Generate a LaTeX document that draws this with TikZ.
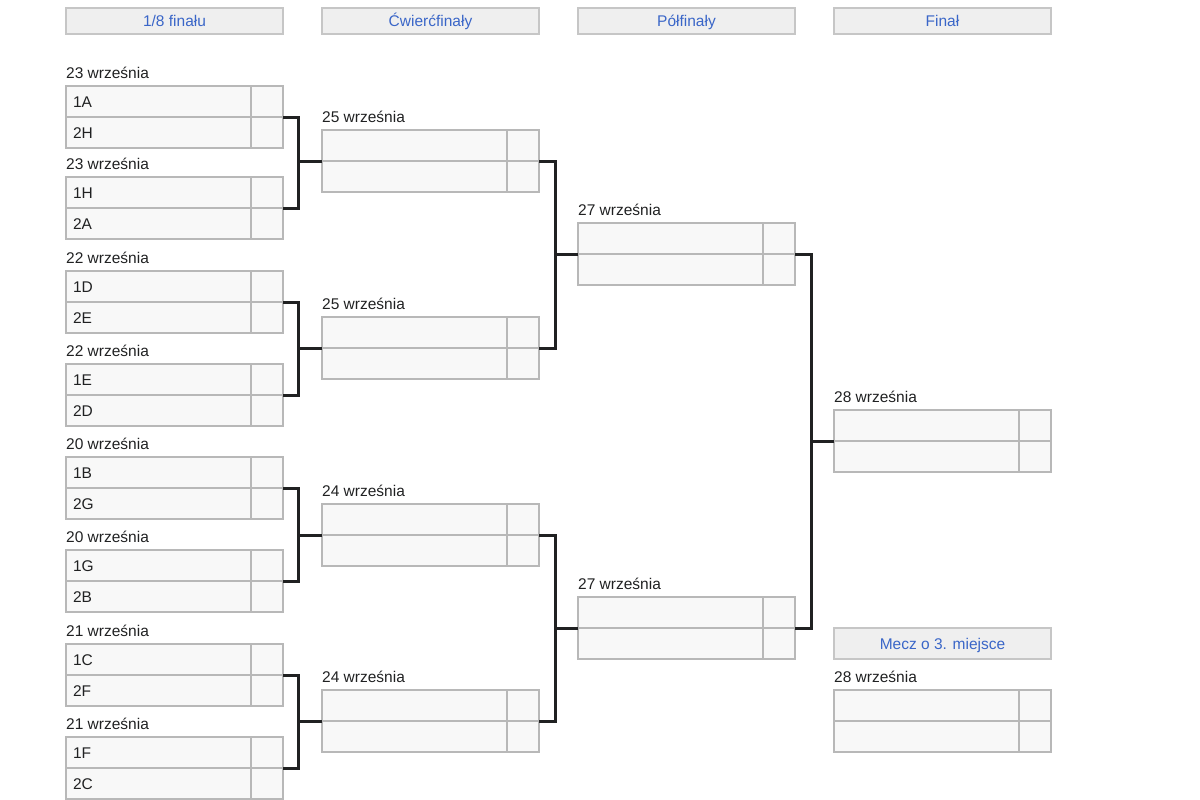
\documentclass[tikz,border=0pt]{standalone}
\usepackage{fontspec}
\setmainfont{Liberation Sans}
\usetikzlibrary{positioning}

\definecolor{ramka}{HTML}{B8B8B8}
\definecolor{tlo}{HTML}{F8F8F8}
\definecolor{naglowek}{HTML}{EFEFEF}
\definecolor{niebieski}{HTML}{3A66C8}
\definecolor{tekst}{HTML}{202122}

\tikzset{
  druzyna/.style={draw=ramka, fill=tlo, line width=1.2pt, outer sep=0pt,
    minimum height=31pt, text width=171pt, inner xsep=7pt, inner ysep=0pt,
    text height=11pt, text depth=0pt, align=left, anchor=north west, text=tekst},
  wynik/.style={draw=ramka, fill=tlo, line width=1.2pt, outer sep=0pt,
    minimum width=32pt, minimum height=31pt, inner sep=0pt, anchor=north west},
  data/.style={anchor=base west, inner sep=0pt, text=tekst},
  runda/.style={draw=ramka!80, fill=naglowek, line width=1.2pt, outer sep=0pt,
    minimum width=217pt, minimum height=26pt, inner sep=0pt, anchor=north west,
    text height=11pt, text depth=0pt, text=niebieski},
  link/.style={line width=3pt, draw=tekst}
}

% one match: name, x, top, date, team 1, team 2
\newcommand\mecz[6]{%
  \node[data] (#1d) at (#2,#3-7.5) {#4};
  \node[druzyna] (#1a) at (#2,#3) {#5};
  \node[wynik] (#1as) at (#1a.north east) {};
  \node[druzyna] (#1b) at (#1a.south west) {#6};
  \node[wynik] (#1bs) at (#1b.north east) {};
}

\begin{document}
\begin{tikzpicture}[x=1pt, y=-1pt, font=\fontsize{15.5}{18}\selectfont]
\useasboundingbox (0,0) rectangle (1200,800);
% round headers
\node[runda] (H1) at (66,8) {1/8 finału};
\node[runda] (H2) at (322,8) {Ćwierćfinały};
\node[runda] (H3) at (578,8) {Półfinały};
\node[runda] (H4) at (834,8) {Finał};
\node[runda, minimum height=31pt] (H5) at (834,628) {Mecz o 3. miejsce};
% 1/8
\mecz{m1}{66}{86}{23 września}{1A}{2H}
\mecz{m2}{66}{177}{23 września}{1H}{2A}
\mecz{m3}{66}{271}{22 września}{1D}{2E}
\mecz{m4}{66}{364}{22 września}{1E}{2D}
\mecz{m5}{66}{457}{20 września}{1B}{2G}
\mecz{m6}{66}{550}{20 września}{1G}{2B}
\mecz{m7}{66}{644}{21 września}{1C}{2F}
\mecz{m8}{66}{737}{21 września}{1F}{2C}
% quarter finals
\mecz{q1}{322}{130}{25 września}{}{}
\mecz{q2}{322}{317}{25 września}{}{}
\mecz{q3}{322}{504}{24 września}{}{}
\mecz{q4}{322}{690}{24 września}{}{}
% semi finals
\mecz{s1}{578}{223}{27 września}{}{}
\mecz{s2}{578}{597}{27 września}{}{}
% final and 3rd place
\mecz{f}{834}{410}{28 września}{}{}
\mecz{t}{834}{690}{28 września}{}{}
% brackets
\draw[link] (m1as.south east) -- ++(15,0) |- (m2as.south east);
\draw[link] (q1a.south west) -- ++(-24,0);
\draw[link] (m3as.south east) -- ++(15,0) |- (m4as.south east);
\draw[link] (q2a.south west) -- ++(-24,0);
\draw[link] (m5as.south east) -- ++(15,0) |- (m6as.south east);
\draw[link] (q3a.south west) -- ++(-24,0);
\draw[link] (m7as.south east) -- ++(15,0) |- (m8as.south east);
\draw[link] (q4a.south west) -- ++(-24,0);
\draw[link] (q1as.south east) -- ++(16,0) |- (q2as.south east);
\draw[link] (s1a.south west) -- ++(-23,0);
\draw[link] (q3as.south east) -- ++(16,0) |- (q4as.south east);
\draw[link] (s2a.south west) -- ++(-23,0);
\draw[link] (s1as.south east) -- ++(16,0) |- (s2as.south east);
\draw[link] (fa.south west) -- ++(-23,0);
\end{tikzpicture}
\end{document}
